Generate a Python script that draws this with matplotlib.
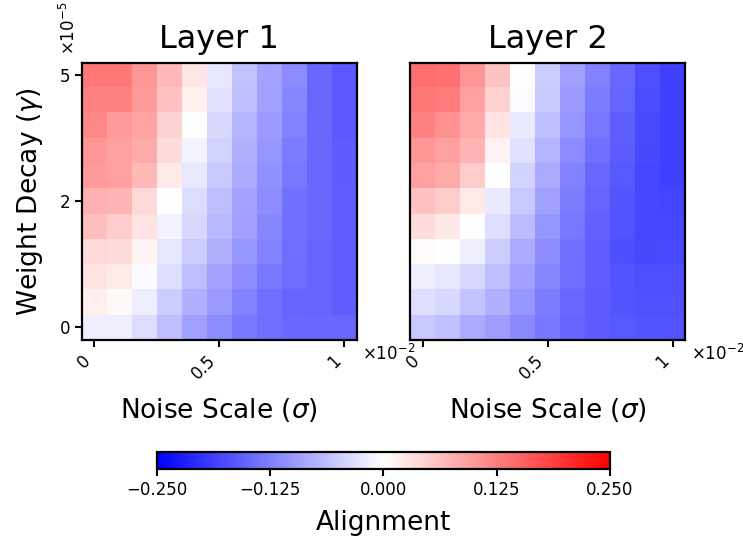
import numpy as np
import matplotlib
matplotlib.use("Agg")
import matplotlib.pyplot as plt

# noise scale (sigma) columns, weight decay (gamma) rows from top (5e-5) to bottom (0)
sigma_ticks = [0, 5, 10]
sigma_labels = ["0", "0.5", "1"]
gamma_ticks = [0, 5, 10]
gamma_labels = ["5", "2", "0"]

# alignment values, rows top -> bottom
layer1 = [
    [0.132, 0.132, 0.103, 0.069, 0.025, -0.025, -0.059, -0.088, -0.113, -0.147, -0.162],
    [0.123, 0.123, 0.098, 0.059, 0.015, -0.029, -0.064, -0.093, -0.118, -0.147, -0.162],
    [0.118, 0.098, 0.088, 0.044, 0.000, -0.039, -0.074, -0.098, -0.123, -0.147, -0.162],
    [0.103, 0.093, 0.083, 0.034, -0.010, -0.044, -0.078, -0.103, -0.127, -0.147, -0.160],
    [0.098, 0.093, 0.069, 0.020, -0.023, -0.054, -0.083, -0.108, -0.132, -0.147, -0.160],
    [0.078, 0.074, 0.039, 0.000, -0.034, -0.064, -0.088, -0.113, -0.137, -0.147, -0.157],
    [0.064, 0.049, 0.029, -0.013, -0.039, -0.069, -0.093, -0.118, -0.140, -0.147, -0.157],
    [0.039, 0.034, 0.010, -0.025, -0.049, -0.078, -0.103, -0.123, -0.142, -0.152, -0.157],
    [0.029, 0.020, -0.005, -0.032, -0.064, -0.088, -0.113, -0.132, -0.144, -0.152, -0.157],
    [0.015, 0.007, -0.017, -0.049, -0.078, -0.098, -0.123, -0.140, -0.150, -0.152, -0.157],
    [-0.017, -0.017, -0.034, -0.064, -0.093, -0.113, -0.132, -0.142, -0.147, -0.147, -0.147],
]

layer2 = [
    [0.142, 0.137, 0.103, 0.059, 0.000, -0.049, -0.093, -0.123, -0.147, -0.172, -0.186],
    [0.132, 0.127, 0.093, 0.044, -0.005, -0.054, -0.098, -0.127, -0.152, -0.174, -0.186],
    [0.123, 0.108, 0.083, 0.029, -0.023, -0.064, -0.103, -0.134, -0.157, -0.176, -0.186],
    [0.103, 0.093, 0.074, 0.013, -0.029, -0.074, -0.113, -0.140, -0.160, -0.179, -0.186],
    [0.093, 0.083, 0.049, 0.000, -0.042, -0.083, -0.123, -0.147, -0.164, -0.181, -0.186],
    [0.059, 0.049, 0.020, -0.020, -0.054, -0.093, -0.127, -0.152, -0.167, -0.181, -0.183],
    [0.034, 0.023, 0.000, -0.032, -0.066, -0.103, -0.132, -0.154, -0.167, -0.181, -0.181],
    [0.005, 0.000, -0.017, -0.049, -0.083, -0.113, -0.137, -0.157, -0.172, -0.179, -0.176],
    [-0.017, -0.025, -0.039, -0.064, -0.093, -0.118, -0.142, -0.157, -0.167, -0.172, -0.172],
    [-0.032, -0.039, -0.059, -0.078, -0.103, -0.127, -0.147, -0.160, -0.167, -0.170, -0.170],
    [-0.054, -0.062, -0.083, -0.095, -0.115, -0.134, -0.152, -0.160, -0.164, -0.167, -0.167],
]

titles = ["Layer 1", "Layer 2"]
vmin, vmax = -0.25, 0.25

fig = plt.figure(figsize=(7.43, 5.37), dpi=100)
ax1 = fig.add_axes([0.110, 0.367, 0.370, 0.516])
ax2 = fig.add_axes([0.552, 0.367, 0.370, 0.516])

for ax, data, title in zip([ax1, ax2], [layer1, layer2], titles):
    im = ax.imshow(np.array(data), cmap="bwr", vmin=vmin, vmax=vmax,
                   aspect="auto", interpolation="nearest")
    ax.set_title(title, fontsize=23, pad=11)
    ax.set_xticks(sigma_ticks)
    ax.set_xticklabels(sigma_labels, rotation=45, ha="right", fontsize=12)
    ax.set_xlabel(r"Noise Scale ($\sigma$)", fontsize=19, labelpad=9)
    ax.tick_params(width=1.5, length=5, labelsize=12)
    for s in ax.spines.values():
        s.set_linewidth(1.6)
    ax.text(1.02, -0.015, r"$\times10^{-2}$", transform=ax.transAxes,
            fontsize=12, ha="left", va="top")

ax1.set_yticks(gamma_ticks)
ax1.set_yticklabels(gamma_labels, fontsize=12)
ax1.set_ylabel(r"Weight Decay ($\gamma$)", fontsize=19, labelpad=10)
ax1.text(-0.045, 1.03, r"$\times10^{-5}$", transform=ax1.transAxes,
         fontsize=12, rotation=90, ha="center", va="bottom")
ax2.set_yticks([])

cax = fig.add_axes([0.211, 0.127, 0.610, 0.032])
cb = fig.colorbar(im, cax=cax, orientation="horizontal",
                  ticks=[-0.25, -0.125, 0, 0.125, 0.25])
cb.ax.tick_params(labelsize=12, width=1.5, length=5)
cb.outline.set_linewidth(1.6)
cb.set_label("Alignment", fontsize=19, labelpad=8)

fig.savefig("out.png", dpi=100)
